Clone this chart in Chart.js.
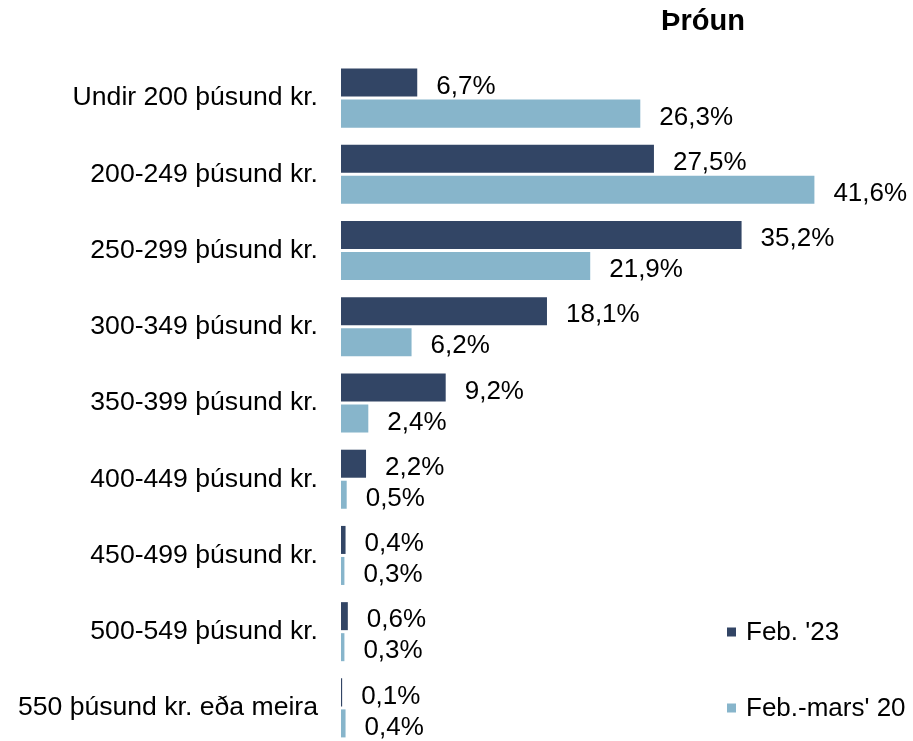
<!DOCTYPE html>
<html>
<head>
<meta charset="utf-8">
<script src="https://cdn.jsdelivr.net/npm/chart.js@4/dist/chart.umd.min.js"></script>
<style>
  html, body { margin: 0; padding: 0; background: #fff; overflow: hidden; }
  #wrap { width: 913px; height: 760px; }
</style>
</head>
<body>
<div id="wrap"><canvas id="incomeChart" width="913" height="760"></canvas></div>
<script>
// Flokkar og gildi
const categories = [
  "Undir 200 þúsund kr.",
  "200-249 þúsund kr.",
  "250-299 þúsund kr.",
  "300-349 þúsund kr.",
  "350-399 þúsund kr.",
  "400-449 þúsund kr.",
  "450-499 þúsund kr.",
  "500-549 þúsund kr.",
  "550 þúsund kr. eða meira",
];
const feb23 = [6.7, 27.5, 35.2, 18.1, 9.2, 2.2, 0.4, 0.6, 0.1];
const febMars20 = [26.3, 41.6, 21.9, 6.2, 2.4, 0.5, 0.3, 0.3, 0.4];
const seriesNames = ["Feb. '23", "Feb.-mars' 20"];
const chartTitle = "Þróun";

const darkBlue = "#324565";
const lightBlue = "#87B5CB";
const fontFamily = "'Liberation Sans', Arial, sans-serif";

function formatPct(v) {
  return v.toFixed(1).replace(".", ",") + "%";
}

// Gildismerki hægra megin við súlurnar
const valueLabels = {
  id: "valueLabels",
  afterDatasetsDraw(chart) {
    const ctx = chart.ctx;
    ctx.save();
    ctx.font = "26px " + fontFamily;
    ctx.fillStyle = "#000";
    ctx.textAlign = "left";
    ctx.textBaseline = "middle";
    chart.data.datasets.forEach((ds, i) => {
      chart.getDatasetMeta(i).data.forEach((bar, j) => {
        ctx.fillText(formatPct(ds.data[j]), bar.x + 19, bar.y + 4);
      });
    });
    ctx.restore();
  },
};

// Titill og skýringar
const titleAndLegend = {
  id: "titleAndLegend",
  afterDraw(chart) {
    const ctx = chart.ctx;
    ctx.save();
    ctx.fillStyle = "#000";
    ctx.font = "bold 29px " + fontFamily;
    ctx.textAlign = "center";
    ctx.textBaseline = "alphabetic";
    ctx.fillText(chartTitle, 703, 30);

    ctx.font = "26px " + fontFamily;
    ctx.textAlign = "left";
    ctx.textBaseline = "middle";
    chart.data.datasets.forEach((ds, i) => {
      const y = 632 + i * 76;
      ctx.fillStyle = ds.backgroundColor;
      ctx.fillRect(727, y - 4.5, 9, 9);
      ctx.fillStyle = "#000";
      ctx.fillText(ds.label, 746, y + 1);
    });
    ctx.restore();
  },
};

const ctx = document.getElementById("incomeChart").getContext("2d");
new Chart(ctx, {
  type: "bar",
  data: {
    labels: categories,
    datasets: [
      {
        label: seriesNames[0],
        data: feb23,
        backgroundColor: darkBlue,
        categoryPercentage: 0.814,
        barPercentage: 0.903,
      },
      {
        label: seriesNames[1],
        data: febMars20,
        backgroundColor: lightBlue,
        categoryPercentage: 0.814,
        barPercentage: 0.903,
      },
    ],
  },
  options: {
    indexAxis: "y",
    responsive: false,
    animation: false,
    layout: {
      padding: { top: 60, bottom: 14, left: 0, right: 3 },
    },
    scales: {
      x: {
        display: false,
        min: 0,
        max: 50,
      },
      y: {
        grid: { display: false, drawTicks: false },
        border: { display: false },
        ticks: {
          padding: 23,
          color: "#000",
          font: { family: fontFamily, size: 26.6 },
        },
        afterFit(scale) {
          scale.width = 341;
          scale.paddingTop = 0;
          scale.paddingBottom = 0;
        },
      },
    },
    plugins: {
      legend: { display: false },
      title: { display: false },
      tooltip: { enabled: false },
    },
  },
  plugins: [valueLabels, titleAndLegend],
});
</script>
</body>
</html>
